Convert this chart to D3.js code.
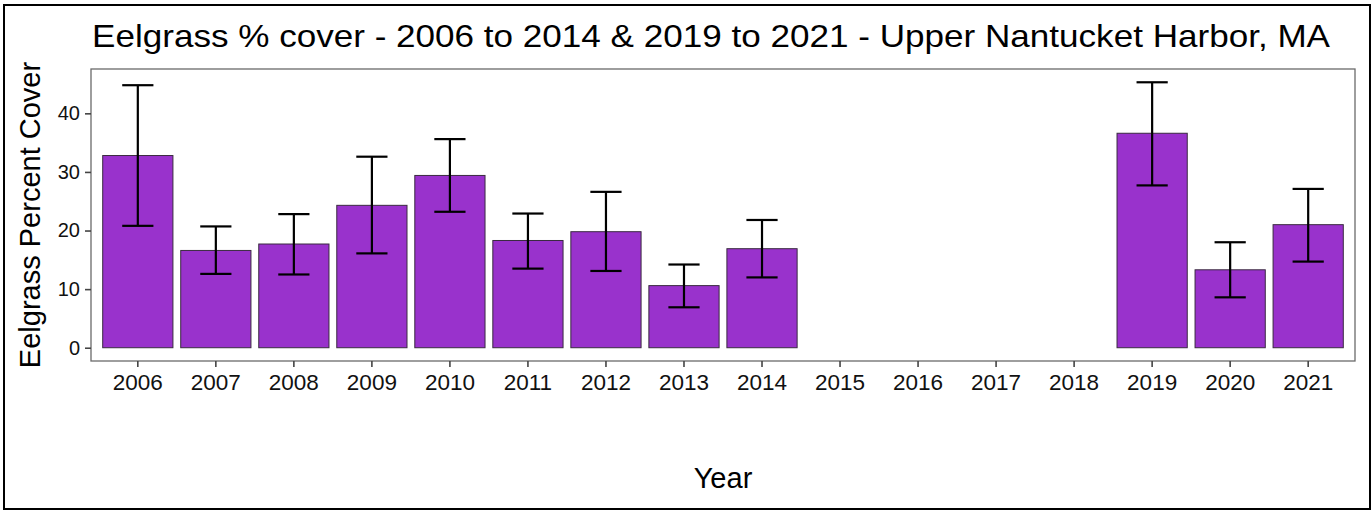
<!DOCTYPE html>
<html>
<head>
<meta charset="utf-8">
<script src="https://cdn.jsdelivr.net/npm/d3@7"></script>
<style>
  body { margin: 0; background: #fff; }
  svg text { font-family: "Liberation Sans", Arial, sans-serif; }
</style>
</head>
<body>
<svg id="chart" width="1372" height="510"></svg>
<script>
"use strict";

// Eelgrass survey data.
var years = ["2006", "2007", "2008", "2009", "2010", "2011", "2012", "2013",
             "2014", "2015", "2016", "2017", "2018", "2019", "2020", "2021"];
var cover = [32.8, 16.6, 17.7, 24.3, 29.4, 18.3, 19.8, 10.6,
             16.9, null, null, null, null, 36.6, 13.3, 21.0];
var err_low = [20.8, 12.6, 12.5, 16.1, 23.2, 13.5, 13.1, 6.9,
               12.0, null, null, null, null, 27.7, 8.6, 14.7];
var err_high = [44.8, 20.7, 22.8, 32.6, 35.6, 22.9, 26.6, 14.2,
                21.8, null, null, null, null, 45.3, 18.0, 27.1];
var y_ticks = [0, 10, 20, 30, 40];

var svg = d3.select("#chart");

// outer frame round the whole picture
svg.append("rect")
    .attr("x", 4).attr("y", 5)
    .attr("width", 1366).attr("height", 504)
    .attr("fill", "none").attr("stroke", "#000").attr("stroke-width", 2);

var panel = { left: 91, right: 1355, top: 69, bottom: 361 };

var rows = years.map(function(y, i) {
    return { year: y, value: cover[i], lo: err_low[i], hi: err_high[i] };
});
var present = rows.filter(function(d) { return d.value !== null; });

// ggplot style discrete scale: first/last centre 0.6 step from the edge
var x = d3.scaleBand()
    .domain(years)
    .range([panel.left, panel.right])
    .paddingInner(0.1)
    .paddingOuter(0.15);

var y_max = d3.max(err_high);
var y_pad = y_max * 0.05;
var y = d3.scaleLinear()
    .domain([-y_pad, y_max + y_pad])
    .range([panel.bottom, panel.top]);

// bars
svg.append("g").selectAll("rect")
    .data(present)
    .join("rect")
    .attr("x", function(d) { return x(d.year); })
    .attr("width", x.bandwidth())
    .attr("y", function(d) { return y(d.value); })
    .attr("height", function(d) { return y(0) - y(d.value); })
    .attr("fill", "#9932CC")
    .attr("stroke", "#3a2a40")
    .attr("stroke-width", 1);

// error bars
var cap = x.step() * 0.2;
var eb = svg.append("g")
    .attr("stroke", "#000").attr("stroke-width", 2.2).attr("fill", "none");
present.forEach(function(d) {
    var cx = x(d.year) + x.bandwidth() / 2;
    eb.append("line")
        .attr("x1", cx).attr("x2", cx)
        .attr("y1", y(d.lo)).attr("y2", y(d.hi));
    eb.append("line")
        .attr("x1", cx - cap).attr("x2", cx + cap)
        .attr("y1", y(d.hi)).attr("y2", y(d.hi));
    eb.append("line")
        .attr("x1", cx - cap).attr("x2", cx + cap)
        .attr("y1", y(d.lo)).attr("y2", y(d.lo));
});

// panel border
svg.append("rect")
    .attr("x", panel.left).attr("y", panel.top)
    .attr("width", panel.right - panel.left)
    .attr("height", panel.bottom - panel.top)
    .attr("fill", "none").attr("stroke", "#6a6a6a").attr("stroke-width", 1.3);

// axes
var x_axis = svg.append("g")
    .attr("transform", "translate(0," + panel.bottom + ")")
    .call(d3.axisBottom(x).tickSize(6).tickPadding(7));
var y_axis = svg.append("g")
    .attr("transform", "translate(" + panel.left + ",0)")
    .call(d3.axisLeft(y).tickValues(y_ticks).tickSize(6).tickPadding(5));

[x_axis, y_axis].forEach(function(ax) {
    ax.select(".domain").remove();
    ax.selectAll(".tick line").attr("stroke", "#444").attr("stroke-width", 1.6);
    ax.selectAll(".tick text")
        .attr("fill", "#111")
        .style("font-family", "'Liberation Sans', Arial, sans-serif");
});
x_axis.selectAll(".tick text").style("font-size", "22.5px");
y_axis.selectAll(".tick text").style("font-size", "20px");

// titles
svg.append("text")
    .attr("x", 92).attr("y", 47)
    .attr("textLength", 1238).attr("lengthAdjust", "spacingAndGlyphs")
    .style("font-size", "32px").attr("fill", "#000")
    .text("Eelgrass % cover - 2006 to 2014 & 2019 to 2021 - Upper Nantucket Harbor, MA");

svg.append("text")
    .attr("transform", "translate(40," + ((panel.top + panel.bottom) / 2) + ") rotate(-90)")
    .attr("text-anchor", "middle")
    .style("font-size", "29px").attr("fill", "#000")
    .text("Eelgrass Percent Cover");

svg.append("text")
    .attr("x", (panel.left + panel.right) / 2).attr("y", 488)
    .attr("text-anchor", "middle")
    .style("font-size", "29px").attr("fill", "#000")
    .text("Year");
</script>
</body>
</html>
